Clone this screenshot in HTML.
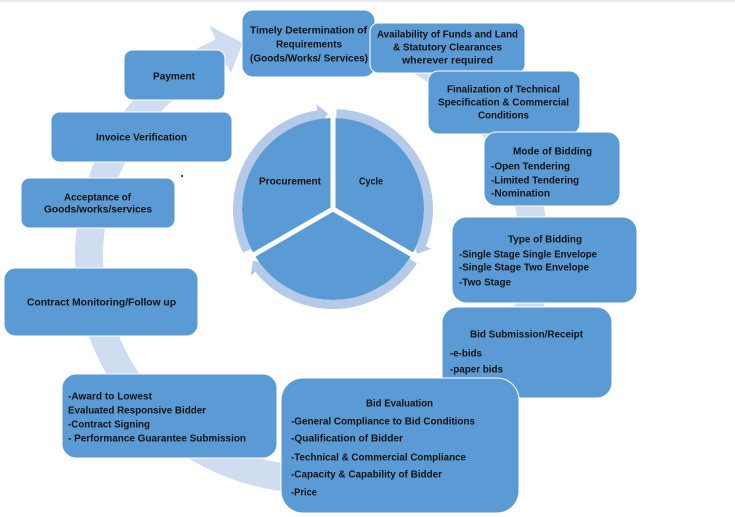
<!DOCTYPE html>
<html>
<head>
<meta charset="utf-8">
<style>
html,body{margin:0;padding:0;background:#fff;}
svg{display:block;}
text{font-family:"Liberation Sans",Arial,sans-serif;font-weight:bold;font-size:10.2px;fill:#111;}
</style>
</head>
<body>
<svg width="735" height="517" viewBox="0 0 735 517" xmlns="http://www.w3.org/2000/svg">
<rect x="0" y="0" width="735" height="517" fill="#ffffff"/>
<rect x="0" y="0" width="735" height="2" fill="#ebebeb"/>

<!-- Big circular arrow -->
<path d="M361.3,24.2 A237,237 0 1 1 215.6,39.5 L209.5,25.8 L242.8,43.0 L230.7,73.3 L227.0,65.1 A209,209 0 1 0 355.5,51.6 Z" fill="#d0ddf0"/>

<!-- Inner ring arrows -->
<path d="M243.1,252.8 A100,100 0 0 1 317.4,110.2 L316.4,104.3 L328.0,113.6 L319.7,125.1 L318.8,119.1 A91,91 0 0 0 251.2,248.9 Z" fill="#b5c9e8"/>
<path d="M336.5,109.1 A100,100 0 0 1 425.7,246.5 L431.3,248.7 L417.3,253.8 L411.8,240.8 L417.4,243.1 A91,91 0 0 0 336.2,118.1 Z" fill="#b5c9e8"/>
<path d="M416.9,263.5 A100,100 0 0 1 255.3,271.9 L250.6,275.7 L252.9,261.0 L266.9,262.5 L262.3,266.3 A91,91 0 0 0 409.3,258.6 Z" fill="#b5c9e8"/>

<!-- Pie -->
<circle cx="333" cy="209" r="91" fill="#5b9bd5"/>
<line x1="333" y1="209" x2="333" y2="114" stroke="#fff" stroke-width="5"/>
<line x1="333" y1="209" x2="413.5" y2="255.5" stroke="#fff" stroke-width="5"/>
<line x1="333" y1="209" x2="252.5" y2="255.5" stroke="#fff" stroke-width="5"/>
<text x="259" y="184.5" textLength="62" lengthAdjust="spacingAndGlyphs">Procurement</text>
<text x="359" y="184.5" textLength="24" lengthAdjust="spacingAndGlyphs">Cycle</text>

<!-- Boxes -->
<g fill="#5b9bd5" stroke="#ffffff" stroke-width="1">
<rect x="242" y="10" width="133" height="67" rx="11"/>
<rect x="370" y="23" width="155" height="50" rx="8.5"/>
<rect x="428" y="71" width="152" height="63" rx="10.5"/>
<rect x="484" y="132" width="136" height="74" rx="12.5"/>
<rect x="452" y="217" width="185" height="86" rx="14.5"/>
<rect x="442" y="307" width="170" height="91" rx="15.5"/>
<rect x="281" y="378" width="238" height="135" rx="22"/>
<rect x="62" y="374" width="215" height="84" rx="14"/>
<rect x="4" y="268" width="194" height="68" rx="11.5"/>
<rect x="21" y="178" width="154" height="50" rx="8.5"/>
<rect x="51" y="112" width="181" height="50" rx="8.5"/>
<rect x="124" y="50" width="101" height="50" rx="8.5"/>
</g>

<!-- Timely -->
<text x="250" y="33.5" textLength="117" lengthAdjust="spacingAndGlyphs">Timely Determination of</text>
<text x="276" y="47.5" textLength="66" lengthAdjust="spacingAndGlyphs">Requirements</text>
<text x="250" y="61.5" textLength="118" lengthAdjust="spacingAndGlyphs">(Goods/Works/ Services)</text>

<!-- Availability -->
<text x="377" y="37.5" textLength="141" lengthAdjust="spacingAndGlyphs">Availability of Funds and Land</text>
<text x="393" y="50.5" textLength="109" lengthAdjust="spacingAndGlyphs">&amp; Statutory Clearances</text>
<text x="402" y="63.5" textLength="91" lengthAdjust="spacingAndGlyphs">wherever  required</text>

<!-- Finalization -->
<text x="447" y="92.5" textLength="113" lengthAdjust="spacingAndGlyphs">Finalization of Technical</text>
<text x="438" y="105.5" textLength="131" lengthAdjust="spacingAndGlyphs">Specification &amp; Commercial</text>
<text x="478" y="118.5" textLength="51" lengthAdjust="spacingAndGlyphs">Conditions</text>

<!-- Mode of Bidding -->
<text x="513" y="154.5" textLength="79" lengthAdjust="spacingAndGlyphs">Mode of Bidding</text>
<text x="491" y="169.5" textLength="79" lengthAdjust="spacingAndGlyphs">-Open Tendering</text>
<text x="491" y="183.5" textLength="88" lengthAdjust="spacingAndGlyphs">-Limited Tendering</text>
<text x="491" y="196.5" textLength="59" lengthAdjust="spacingAndGlyphs">-Nomination</text>

<!-- Type of Bidding -->
<text x="508" y="242.5" textLength="74" lengthAdjust="spacingAndGlyphs">Type of Bidding</text>
<text x="459" y="257.5" textLength="138" lengthAdjust="spacingAndGlyphs">-Single Stage Single Envelope</text>
<text x="459" y="270.5" textLength="130" lengthAdjust="spacingAndGlyphs">-Single Stage Two Envelope</text>
<text x="459" y="285.5" textLength="52" lengthAdjust="spacingAndGlyphs">-Two Stage</text>

<!-- Bid Submission -->
<text x="470" y="337.5" textLength="113" lengthAdjust="spacingAndGlyphs">Bid Submission/Receipt</text>
<text x="450" y="356.5" textLength="32" lengthAdjust="spacingAndGlyphs">-e-bids</text>
<text x="450" y="372.5" textLength="53" lengthAdjust="spacingAndGlyphs">-paper bids</text>

<!-- Bid Evaluation -->
<text x="366" y="406.5" textLength="67" lengthAdjust="spacingAndGlyphs">Bid Evaluation</text>
<text x="291" y="424.5" textLength="184" lengthAdjust="spacingAndGlyphs">-General Compliance to Bid Conditions</text>
<text x="291" y="441.5" textLength="112" lengthAdjust="spacingAndGlyphs">-Qualification of Bidder</text>
<text x="291" y="460.5" textLength="175" lengthAdjust="spacingAndGlyphs">-Technical &amp; Commercial Compliance</text>
<text x="291" y="477.5" textLength="151" lengthAdjust="spacingAndGlyphs">-Capacity &amp; Capability of Bidder</text>
<text x="291" y="495.5" textLength="26" lengthAdjust="spacingAndGlyphs">-Price</text>

<!-- Award -->
<text x="68" y="399.5" textLength="84" lengthAdjust="spacingAndGlyphs">-Award to Lowest</text>
<text x="68" y="413.5" textLength="138" lengthAdjust="spacingAndGlyphs">Evaluated Responsive Bidder</text>
<text x="68" y="427.5" textLength="82" lengthAdjust="spacingAndGlyphs">-Contract Signing</text>
<text x="68" y="441.5" textLength="178" lengthAdjust="spacingAndGlyphs">- Performance Guarantee Submission</text>

<!-- Contract Monitoring -->
<text x="27" y="305.5" textLength="149" lengthAdjust="spacingAndGlyphs">Contract Monitoring/Follow up</text>

<!-- Acceptance -->
<text x="64" y="200.5" textLength="67" lengthAdjust="spacingAndGlyphs">Acceptance of</text>
<text x="44" y="212.5" textLength="108" lengthAdjust="spacingAndGlyphs">Goods/works/services</text>

<!-- Invoice -->
<text x="96" y="140.5" textLength="91" lengthAdjust="spacingAndGlyphs">Invoice Verification</text>

<!-- Payment -->
<text x="153" y="79.5" textLength="42" lengthAdjust="spacingAndGlyphs">Payment</text>

<!-- small dot -->
<rect x="181" y="175" width="2" height="2" fill="#2a4fc0"/>
</svg>
</body>
</html>
